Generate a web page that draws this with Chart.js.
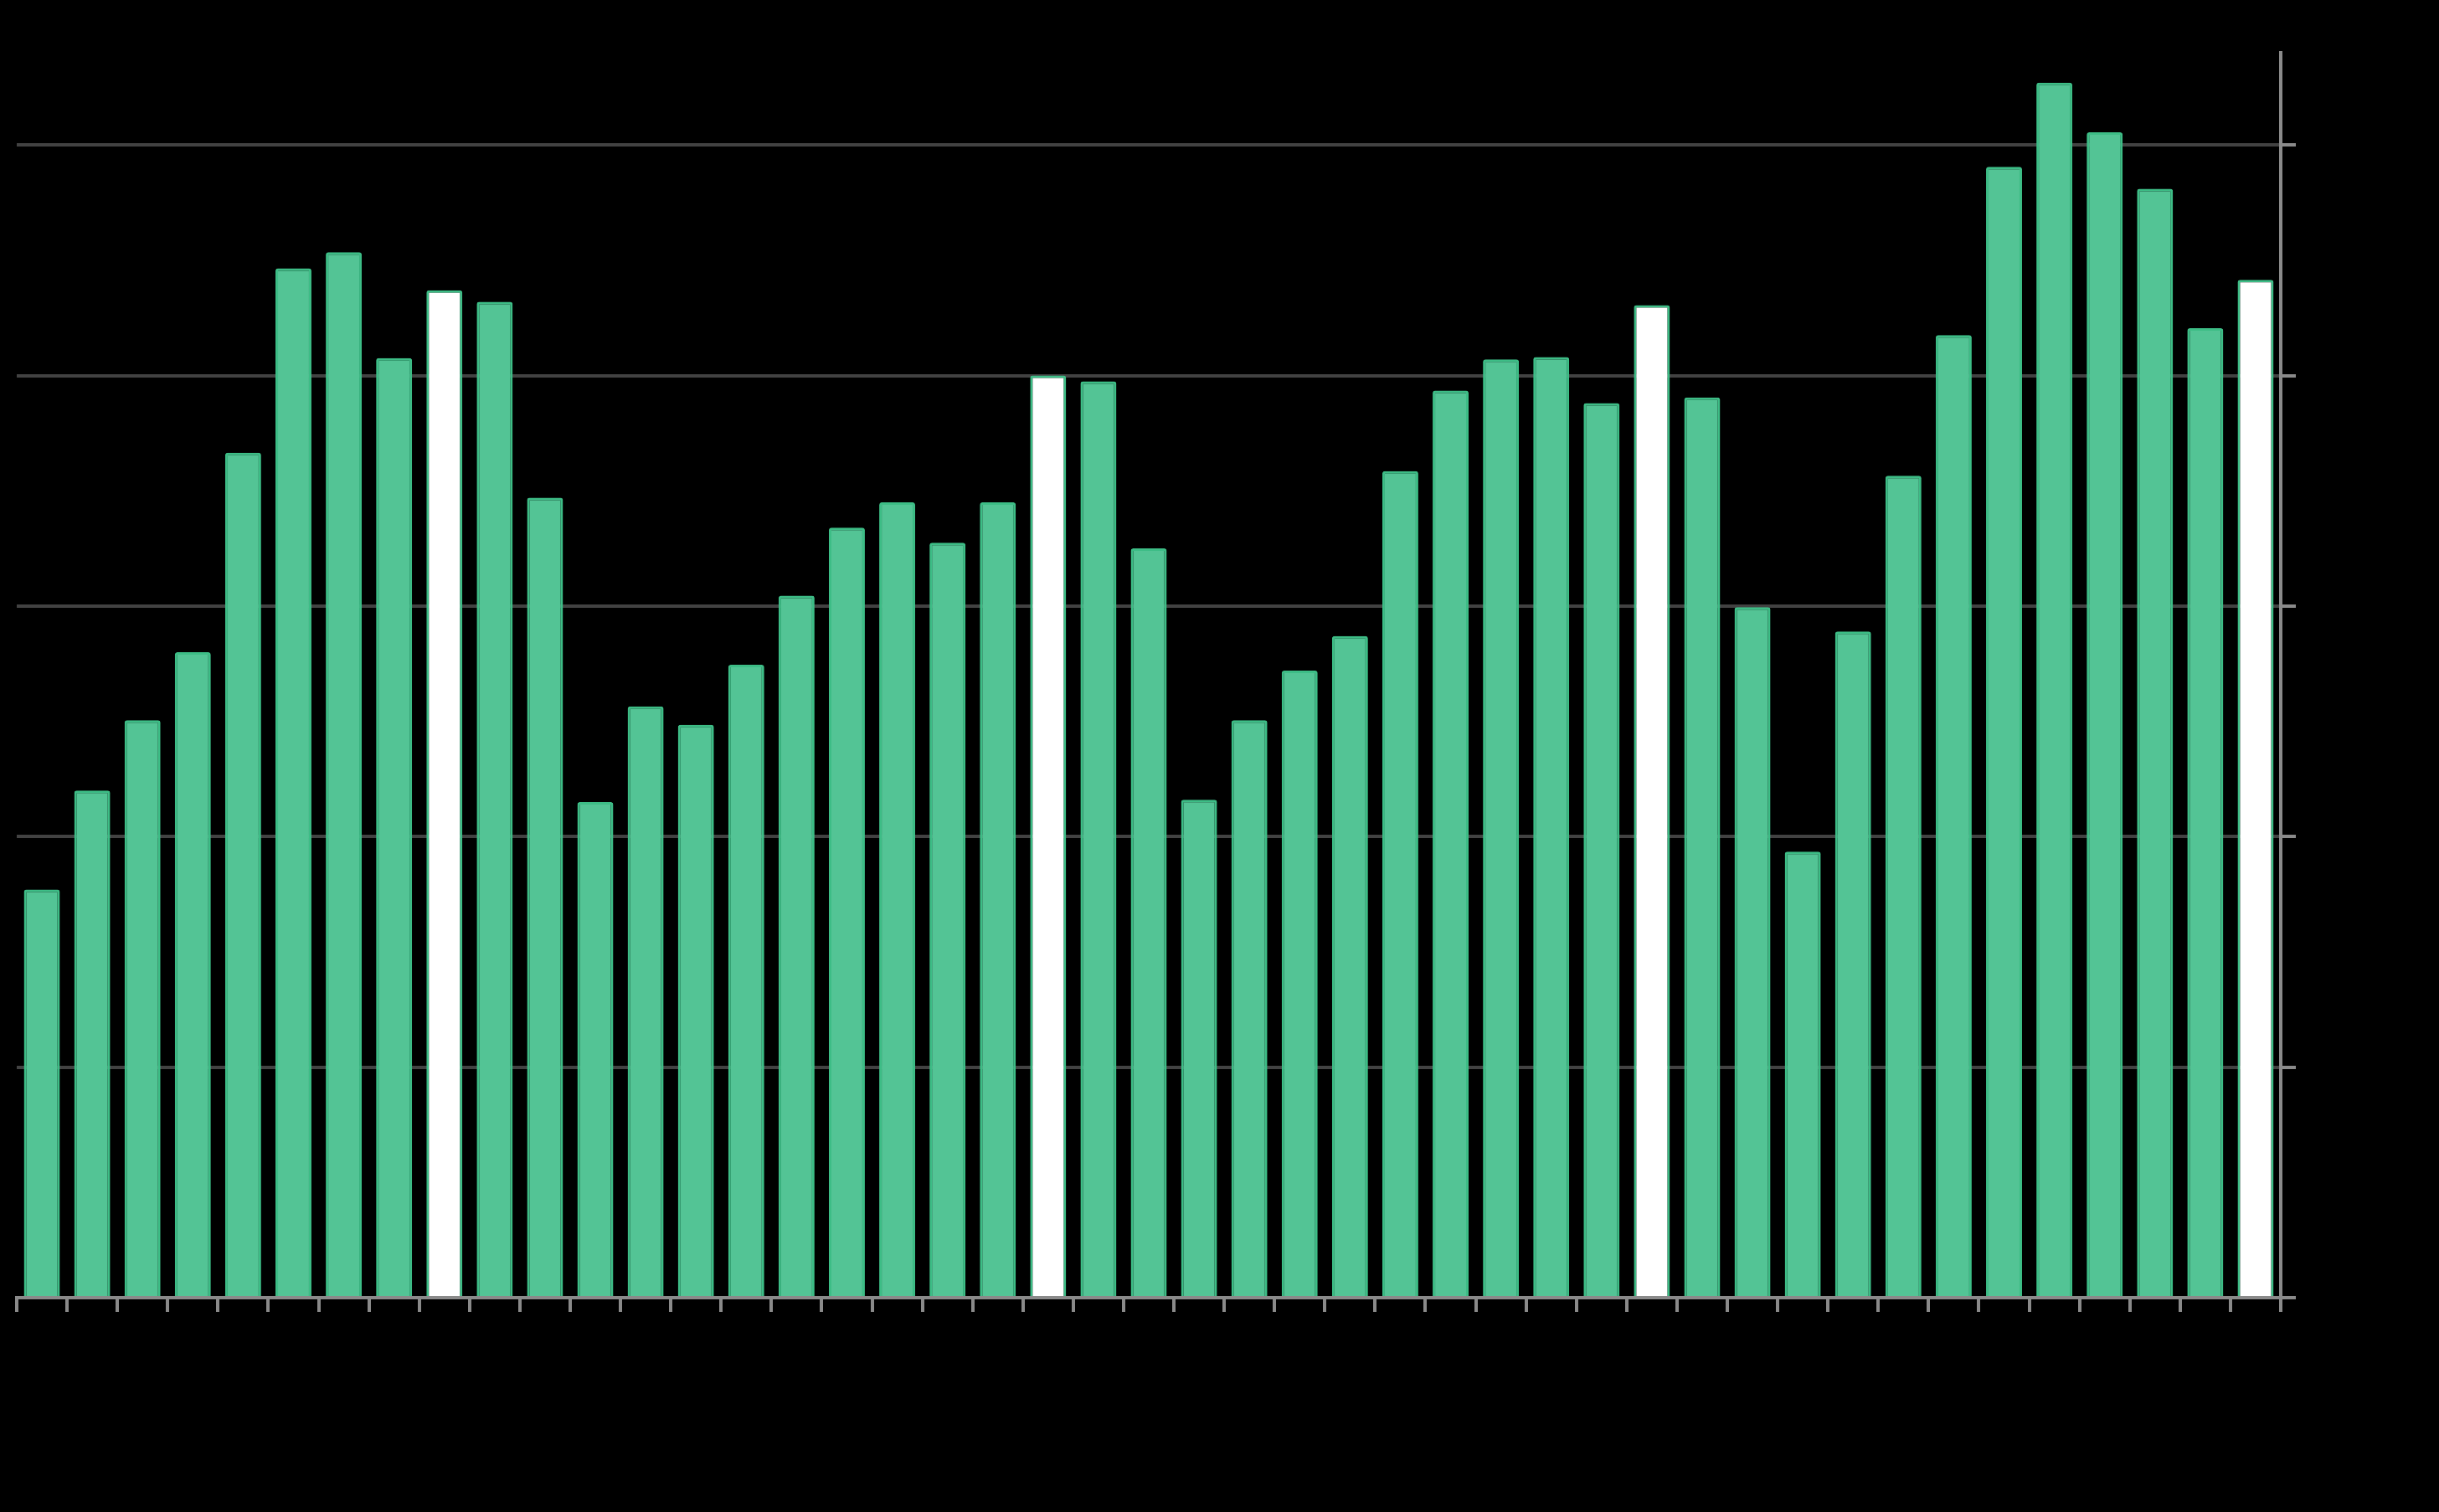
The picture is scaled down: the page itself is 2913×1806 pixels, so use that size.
<!DOCTYPE html>
<html>
<head>
<meta charset="utf-8">
<script src="https://cdn.jsdelivr.net/npm/chart.js@4/dist/chart.umd.min.js"></script>
<style>
html,body{margin:0;padding:0;background:#000;}
#wrap{width:2913px;height:1806px;position:relative;background:#000;}
</style>
</head>
<body>
<div id="wrap"><canvas id="c" width="2913" height="1806"></canvas></div>
<script>
// Categories: 45 consecutive months (every 12th highlighted)
const categories = [
  "Apr 1","May 1","Jun 1","Jul 1","Aug 1","Sep 1","Oct 1","Nov 1","Dec 1",
  "Jan 2","Feb 2","Mar 2","Apr 2","May 2","Jun 2","Jul 2","Aug 2","Sep 2","Oct 2","Nov 2","Dec 2",
  "Jan 3","Feb 3","Mar 3","Apr 3","May 3","Jun 3","Jul 3","Aug 3","Sep 3","Oct 3","Nov 3","Dec 3",
  "Jan 4","Feb 4","Mar 4","Apr 4","May 4","Jun 4","Jul 4","Aug 4","Sep 4","Oct 4","Nov 4","Dec 4"
];
const values = [
  35.4, 44.0, 50.1, 56.0, 73.3, 89.3, 90.7, 81.5, 87.4,
  86.4, 69.4, 43.0, 51.3, 49.7, 54.9, 60.9, 66.8, 69.0, 65.5, 69.0, 80.0,
  79.5, 65.0, 43.2, 50.1, 54.4, 57.4, 71.7, 78.7, 81.4, 81.6, 77.6, 86.1,
  78.1, 59.9, 38.7, 57.8, 71.3, 83.5, 98.1, 105.4, 101.1, 96.2, 84.1, 88.3
];
const highlighted = [8, 20, 32, 44];
const yTicks = [0, 20, 40, 60, 80, 100];
const yMax = 108;

const GREEN = '#53c495';
const GREEN_EDGE = '#3dbd86';

const bgPlugin = {
  id: 'bg',
  beforeDraw(chart) {
    const ctx = chart.ctx;
    ctx.save();
    ctx.fillStyle = '#000';
    ctx.fillRect(0, 0, chart.width, chart.height);
    ctx.restore();
  }
};

new Chart(document.getElementById('c'), {
  type: 'bar',
  data: {
    labels: categories,
    datasets: [{
      data: values,
      backgroundColor: values.map((v, i) => highlighted.includes(i) ? '#ffffff' : GREEN),
      borderColor: GREEN_EDGE,
      borderWidth: 3,
      borderRadius: 3,
      borderSkipped: 'bottom',
      barPercentage: 0.715,
      categoryPercentage: 1.0
    }]
  },
  options: {
    responsive: false,
    devicePixelRatio: 1,
    animation: false,
    layout: { padding: { left: 20, top: 63, right: 171, bottom: 239 } },
    plugins: { legend: { display: false }, tooltip: { enabled: false } },
    scales: {
      x: {
        offset: true,
        ticks: { display: false },
        grid: {
          offset: true,
          drawOnChartArea: false,
          drawTicks: true,
          tickLength: 17,
          tickColor: '#8a8a8a',
          lineWidth: 4
        },
        border: { display: true, color: '#8a8a8a', width: 4 }
      },
      y: {
        position: 'right',
        min: 0,
        max: yMax,
        afterBuildTicks(scale) { scale.ticks = yTicks.map(v => ({ value: v })); },
        ticks: { display: false, includeBounds: false },
        grid: {
          color: '#424242',
          lineWidth: 4,
          drawTicks: true,
          tickLength: 18,
          tickColor: '#8a8a8a'
        },
        border: { display: true, color: '#8a8a8a', width: 4 }
      }
    }
  },
  plugins: [bgPlugin]
});
</script>
</body>
</html>
